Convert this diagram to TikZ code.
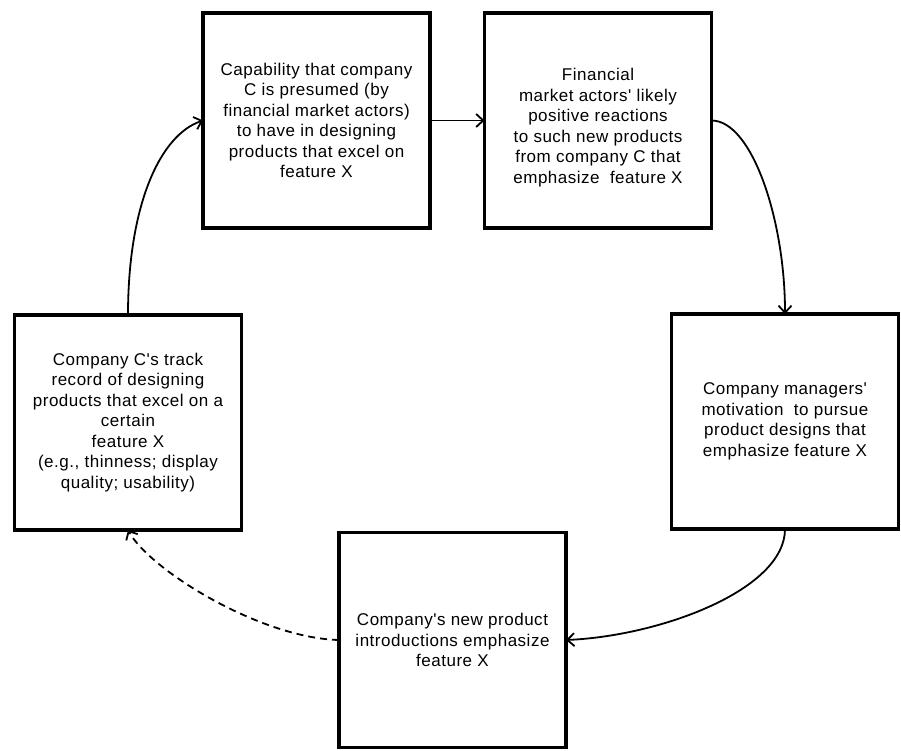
\documentclass[tikz,border=0pt]{standalone}
\usepackage{fontspec}
\setmainfont{Liberation Sans}[Ligatures=TeXOff, LetterSpace=3]
\usetikzlibrary{arrows.meta}
\begin{document}
\begin{tikzpicture}[x=1pt,y=1pt,
  box/.style={draw, line width=3.5pt, minimum width=227pt, minimum height=215pt,
    inner sep=0pt, outer sep=0pt, align=center, font=\fontsize{17}{20.5}\selectfont},
  txt/.style={align=center, inner sep=0pt, font=\fontsize{17}{20.5}\selectfont},
  conn/.style={line width=1.8pt, -{Straight Barb[length=7pt,width=13pt,line width=1.8pt]}},
  dconn/.style={conn, dash pattern=on 7pt off 5pt}]
\useasboundingbox (0,0) rectangle (901,750);
\node[box] (A) at (316.5,629.5) {Capability that company\\C is presumed (by\\financial market actors)\\to have in designing\\products that excel on\\feature X};
\node[box] (B) at (598,629.5) {};
\node[txt] (Bt) at ([yshift=-7pt]B.center) {Financial\\market actors' likely\\positive reactions\\to such new products\\from company C that\\emphasize\hspace{0.3em} feature X};
\node[box] (C) at (785,328.5) {Company managers'\\motivation\hspace{0.3em} to pursue\\product designs that\\emphasize feature X};
\node[box] (D) at (452.5,110) {Company's new product\\introductions emphasize\\feature X};
\node[box] (E) at (128,327.5) {Company C's track\\record of designing\\products that excel on a\\certain\\feature X\\(e.g., thinness; display\\quality; usability)};
\draw[conn] (E.north) .. controls (128,545) and (160,615) .. (A.west);
\draw[conn] (A.east) -- (B.west);
\draw[conn] (B.east) .. controls (752,629.5) and (785,530) .. (C.north);
\draw[conn] (C.south) .. controls (785,160) and (660,114) .. (D.east);
\draw[dconn] (D.west) .. controls (260,112) and (150,180) .. (E.south);
\end{tikzpicture}
\end{document}
